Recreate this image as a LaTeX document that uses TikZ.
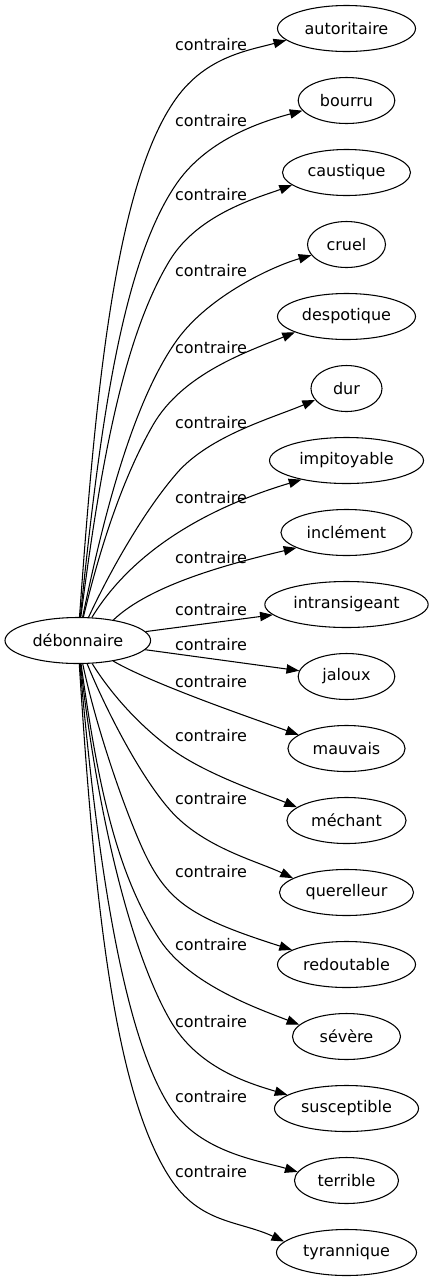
\documentclass[tikz,border=0pt]{standalone}
\usepackage{fontspec}
\setmainfont{DejaVu Sans}
\usetikzlibrary{shapes.geometric, arrows.meta}
\begin{document}
\begin{tikzpicture}[x=0.75pt, y=-0.75pt,
  every node/.style={font=\fontsize{12}{14}\selectfont},
  src/.style={ellipse, draw, line width=0.8pt, minimum width=109.2pt, minimum height=34.5pt, inner sep=0pt},
  tgt/.style={ellipse, draw, line width=0.8pt, minimum height=34.5pt, inner sep=0pt, minimum width=#1},
  lbl/.style={inner sep=0pt},
  edge/.style={line width=0.8pt, -{Triangle[length=9.5pt, width=7pt]}}
]
\useasboundingbox (0,0) rectangle (433,1283);

\node[src] (d) at (77.8,640.5) {débonnaire};
\node[tgt=103.5pt] (t1) at (346.5,28.5) {autoritaire};
\node[tgt=72.5pt] (t2) at (346.5,100.5) {bourru};
\node[tgt=96pt] (t3) at (346.5,172.5) {caustique};
\node[tgt=58.5pt] (t4) at (346.5,244.5) {cruel};
\node[tgt=103.5pt] (t5) at (346.5,316.5) {despotique};
\node[tgt=53.3pt] (t6) at (346.5,388.5) {dur};
\node[tgt=115.5pt] (t7) at (346.5,460.5) {impitoyable};
\node[tgt=98.3pt] (t8) at (346.5,532.5) {inclément};
\node[tgt=122.5pt] (t9) at (346.5,604.5) {intransigeant};
\node[tgt=72.5pt] (t10) at (346.5,676.5) {jaloux};
\node[tgt=87.8pt] (t11) at (346.5,748.5) {mauvais};
\node[tgt=89.3pt] (t12) at (346.5,820.5) {méchant};
\node[tgt=100.5pt] (t13) at (346.5,892.5) {querelleur};
\node[tgt=103.5pt] (t14) at (346.5,964.5) {redoutable};
\node[tgt=81pt] (t15) at (346.5,1036.5) {sévère};
\node[tgt=108pt] (t16) at (346.5,1108.5) {susceptible};
\node[tgt=78pt] (t17) at (346.5,1180.5) {terrible};
\node[tgt=105pt] (t18) at (346.5,1252.5) {tyrannique};

\foreach \i/\y in {1/45,2/121,3/195,4/271,5/348,6/423,7/498,8/558,9/610,10/645,11/682,12/736,13/799,14/872,15/945,16/1022,17/1097,18/1172}
  \node[lbl] (l\i) at (211,\y) {contraire};

\coordinate (m1) at (173,103);
\coordinate (m2) at (177,183);
\coordinate (m3) at (170,260);
\coordinate (m4) at (177,340);
\coordinate (m5) at (153,425);
\coordinate (m6) at (177,473);
\coordinate (m12) at (170,748);
\coordinate (m13) at (170,810);
\coordinate (m14) at (140,843);
\coordinate (m15) at (160,940);
\coordinate (m16) at (170,1020);
\coordinate (m17) at (170,1107);
\coordinate (m18) at (170,1178);

\draw[edge] (d) .. controls (94,417) and (112,194) .. (m1) .. controls (203,57.3) and (246.5,50.8) .. (t1.191);
\draw[edge] (d) .. controls (99,437) and (120,265) .. (m2) .. controls (208.5,137.9) and (264.7,120.8) .. (t2.193);
\draw[edge] (d) .. controls (100,468) and (123,337) .. (m3) .. controls (198.8,213.1) and (260,197) .. (t3.193);
\draw[edge] (d) .. controls (107,499) and (136.4,396.7) .. (m4) .. controls (209,295.5) and (273.4,266) .. (t4.197);
\draw[edge] (d) .. controls (102,539) and (125.6,472.7) .. (m5) .. controls (182.9,373) and (249.3,351) .. (t5.197);
\draw[edge] (d) .. controls (110,571) and (144.2,510.7) .. (m6) .. controls (209.8,435.3) and (274.3,417.4) .. (t6.200);
\draw[edge] (d) .. controls (130,555) and (200,510) .. (t7.203);
\draw[edge] (d.30) .. controls (150,585) and (228,564) .. (t8.197);
\draw[edge] (d) -- (t9.188);
\draw[edge] (d) -- (t10.173);
\draw[edge] (d) .. controls (151,683) and (242.6,715) .. (t11.164);
\draw[edge] (d) .. controls (108,689) and (134,721) .. (m12) .. controls (206,775) and (269.8,795.8) .. (t12.165);
\draw[edge] (d) .. controls (102,700.6) and (137,772.5) .. (m13) .. controls (203,847.5) and (256.5,860.8) .. (t13.165);
\draw[edge] (d) .. controls (95,722) and (120,797) .. (m14) .. controls (165.2,900.8) and (188.1,916.8) .. (t14.165);
\draw[edge] (d) .. controls (97.4,782) and (116,873.6) .. (m15) .. controls (190.25,985.65) and (261.8,1010) .. (t15.166);
\draw[edge] (d) .. controls (97,812) and (130,950.4) .. (m16) .. controls (197.5,1067.9) and (248,1083) .. (t16.167);
\draw[edge] (d) .. controls (97,862) and (123.5,1035.9) .. (m17) .. controls (200,1153) and (260.6,1160.8) .. (t17.170);
\draw[edge] (d) .. controls (95,912.5) and (115.5,1094.2) .. (m18) .. controls (200,1224) and (239,1220.5) .. (t18.170);
\end{tikzpicture}
\end{document}
